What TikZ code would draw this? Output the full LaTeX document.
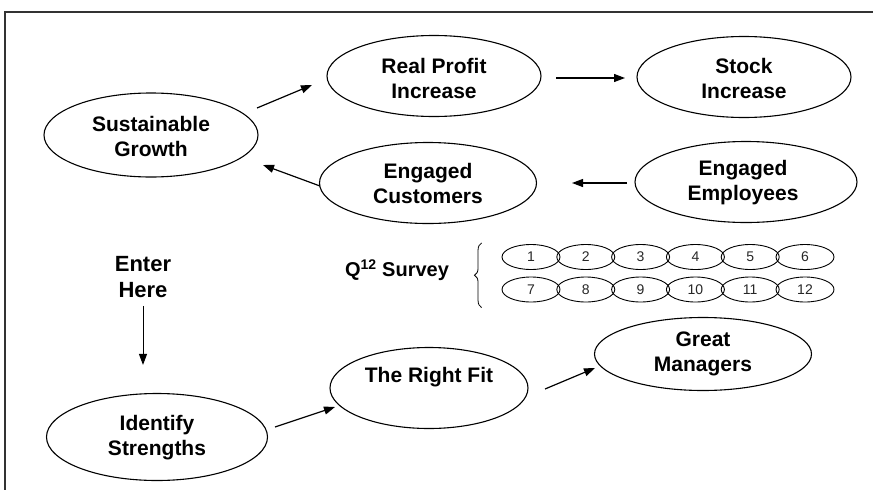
\documentclass[tikz,border=0pt]{standalone}
\usepackage{fontspec}
\setmainfont{Liberation Sans}
\usetikzlibrary{shapes.geometric,arrows.meta,calc,decorations.pathreplacing}
\begin{document}
\begin{tikzpicture}[x=1pt,y=-1pt,
  oval/.style={draw=black,line width=1.1pt,ellipse,inner sep=0pt,
    minimum width=214pt,minimum height=81pt},
  lbl/.style={font=\bfseries\fontsize{21}{25}\selectfont,align=center,inner sep=0pt},
  qoval/.style={draw=black,line width=0.9pt,ellipse,inner sep=0pt,
    minimum width=58pt,minimum height=25pt,text=black!85,font=\fontsize{14}{14}\selectfont},
  flow/.style={line width=1.2pt,-{Triangle[length=11pt,width=8pt]}}]
\useasboundingbox (0,0) rectangle (873,490);
% page frame
\draw[line width=1.4pt,black!80] (5,490) -- (5,12) -- (873,12);

% main ellipses
\node[oval,minimum width=214pt,minimum height=84pt] (sg) at (151,135) {};
\node[lbl] (sgl) at (151,136) {Sustainable\\Growth};
\node[oval] (rp) at (434,76) {};
\node[lbl] (rpl) at (434,78) {Real Profit\\Increase};
\node[oval] (st) at (744,77) {};
\node[lbl] (stl) at (744,78) {Stock\\Increase};
\node[oval,minimum width=217pt] (ec) at (428,183) {};
\node[lbl] (ecl) at (428,183) {Engaged\\Customers};
\node[oval,minimum width=222pt] (ee) at (746,182) {};
\node[lbl] (eel) at (743,183) {Engaged\\Employees};
\node[lbl,font=\bfseries\fontsize{22}{26}\selectfont] (enter) at (143,277) {Enter\\Here};
\node[oval,minimum width=221pt,minimum height=87pt] (is) at (157,437) {};
\node[lbl] (isl) at (157,438) {Identify\\Strengths};
\node[oval,minimum width=198pt] (fit) at (429,388) {};
\node[lbl] (fitl) at (429,377) {The Right Fit};
\node[oval,minimum width=217pt,minimum height=73pt] (gm) at (703,354) {};
\node[lbl] (gml) at (703,354) {Great\\Managers};

% Q12 survey items
\node[lbl,font=\bfseries\fontsize{20}{24}\selectfont] (q12) at (397,270) {Q\textsuperscript{12} Survey};
\foreach \i in {1,...,6}{
  \node[qoval] (n\i) at ({531+54.8*(\i-1)},257) {\i};
}
\foreach \i [evaluate=\i as \k using int(\i+6)] in {1,...,6}{
  \node[qoval] (n\k) at ({531+54.8*(\i-1)},289.5) {\k};
}
\draw[line width=0.8pt,decorate,decoration={brace,amplitude=7pt}]
  ($(n7.west)+(-20,18)$) -- ($(n1.west)+(-20,-14)$);

% arrows
\draw[flow] ($(sg.center)+(106,-27)$) -- ($(rp.center)+(-122,9)$);
\draw[flow] ($(rp.center)+(122,2)$) -- ($(st.center)+(-119,1)$);
\draw[flow] ($(ee.center)+(-119,1)$) -- ($(ec.center)+(144,0)$);
\draw[flow] ($(ec.center)+(-108,3)$) -- ($(sg.center)+(112,30)$);
\draw[flow,line width=1pt] ($(enter.south)+(0,8)$) -- ($(is.north)+(-14,-28)$);
\draw[flow] ($(is.center)+(118,-10)$) -- ($(fit.center)+(-94,19)$);
\draw[flow] ($(fit.center)+(116,1)$) -- ($(gm.center)+(-108,14)$);
\end{tikzpicture}
\end{document}
